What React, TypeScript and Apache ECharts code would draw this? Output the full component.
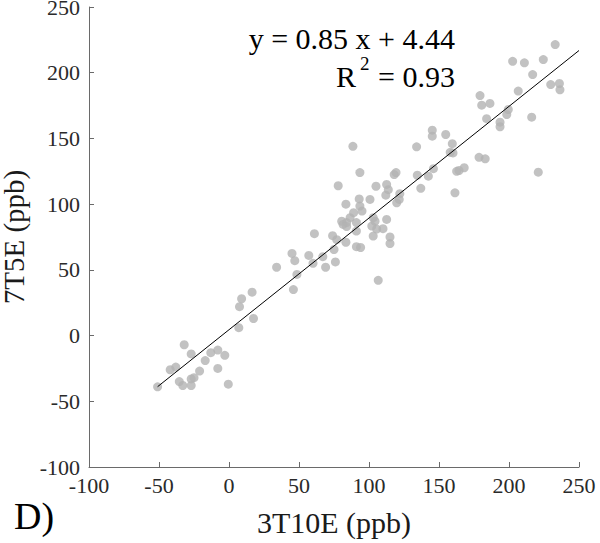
import React, { useEffect, useRef } from "react";
import * as echarts from "echarts";

const x3T10E: number[] = [
  -51, -32, -42, -38, -35.5, -33, -27, -27, -25, -27, -21, -17, -13, -8, -8, -3, -0.5,
  7, 7.5, 9, 16.5, 17.5, 34, 46, 47, 48.5, 45, 57, 60, 61, 67, 69, 76, 75, 74, 77, 83.5,
  78, 83.5, 80.5, 84, 81.5, 84, 86.5, 89, 91, 91, 91, 94, 93.5, 95, 93, 93.5, 88.5,
  100.7, 103, 104.3, 102, 105.5, 103, 110, 112.6, 115, 115, 106.6, 105, 112.6, 113.8, 112,
  119.8, 121.6, 122, 118, 119.3, 134.5, 137, 142.4, 146, 134, 145.2, 145.2, 154.8, 159.5,
  158, 160, 161.4, 162.6, 164.3, 168, 178.6, 183, 179.3, 180.5, 186.4, 184, 193.6, 193.6,
  198.4, 199.5, 202.6, 206.6, 211, 216.9, 216.2, 220.9, 224.5, 229.8, 236, 236.4, 233,
];
const y7T5E: number[] = [
  -39, -7, -26, -24, -35, -38, -14, -33, -32, -38, -27, -19, -13, -11, -25, -15, -37,
  6, 22, 28, 33, 13, 52, 35, 57, 46.5, 62.5, 61, 55, 77.5, 60, 52, 56, 65.5, 76, 73, 71,
  114, 100, 87, 86, 84.6, 83, 89.7, 93.5, 86, 79.5, 67.6, 67, 98.5, 94.7, 104, 124, 144,
  103.6, 89.7, 87, 83.3, 81, 75.7, 81.3, 88.4, 75, 70, 42, 113.6, 115, 111, 106.8,
  101, 103.6, 108, 122.5, 124, 122, 112, 121.3, 127, 143.6, 156.3, 151.7, 153, 146,
  139.4, 139, 108.6, 125, 125.6, 127.7, 135.6, 134.5, 182.6, 175.3, 176.6, 165, 162.4, 158.9,
  168.2, 172, 208.7, 186, 207.5, 198.6, 166.2, 124.3, 210, 191, 191.8, 187, 221.4,
];
const fitLineX: number[] = [-51, 250];
const fitLineY: number[] = [-38.9, 216.9];
const axisTicks = { min: -100, max: 250, interval: 50 };
const equationText = "y = 0.85 x + 4.44";
const r2Text = "= 0.93";
const xTitle = "3T10E (ppb)";
const yTitle = "7T5E (ppb)";
const panelLabel = "D)";

const FONT = "'Liberation Serif', 'Times New Roman', serif";

export default function App() {
  const ref = useRef<HTMLDivElement>(null);
  useEffect(() => {
    if (!ref.current) return;
    const chart = echarts.init(ref.current, null, { renderer: "svg" });
    const axisCommon = {
      type: "value" as const,
      min: axisTicks.min,
      max: axisTicks.max,
      interval: axisTicks.interval,
      splitLine: { show: false },
      axisLine: { show: true, onZero: false, lineStyle: { color: "#6a6a6a", width: 1 } },
      axisTick: { show: true, inside: true, length: 5, lineStyle: { color: "#6a6a6a" } },
      nameLocation: "middle" as const,
    };
    chart.setOption({
      animation: false,
      grid: { left: 89, right: 21, top: 7, bottom: 76, containLabel: false, outerBoundsMode: "none" },
      xAxis: {
        ...axisCommon,
        name: xTitle,
        nameGap: 40,
        nameTextStyle: { fontFamily: FONT, fontSize: 30, color: "#1a1a1a" },
        axisLabel: { fontFamily: FONT, fontSize: 22, color: "#2a2a2a", margin: 7 },
      },
      yAxis: {
        ...axisCommon,
        name: yTitle,
        nameGap: 53,
        nameTextStyle: { fontFamily: FONT, fontSize: 29, color: "#1a1a1a", lineHeight: 29 },
        axisLabel: { fontFamily: FONT, fontSize: 22, color: "#2a2a2a", margin: 9, lineHeight: 14 },
      },
      series: [
        {
          type: "scatter",
          data: x3T10E.map((x, i) => [x, y7T5E[i]]),
          symbol: "circle",
          symbolSize: 9,
          itemStyle: { color: "#b3b3b3" },
          z: 2,
        },
        {
          type: "line",
          data: fitLineX.map((x, i) => [x, fitLineY[i]]),
          symbol: "none",
          lineStyle: { color: "#000", width: 1 },
          z: 3,
        },
      ],
      graphic: [
        {
          type: "text",
          x: 455,
          y: 38,
          style: {
            text: equationText,
            fontFamily: FONT,
            fontSize: 30,
            fill: "#000",
            align: "right",
            verticalAlign: "middle",
          },
        },
        {
          type: "text",
          x: 455,
          y: 76,
          style: {
            text: r2Text,
            fontFamily: FONT,
            fontSize: 30,
            fill: "#000",
            align: "right",
            verticalAlign: "middle",
          },
        },
        {
          type: "text",
          x: 336,
          y: 76,
          style: {
            text: "R",
            fontFamily: FONT,
            fontSize: 30,
            fill: "#000",
            align: "left",
            verticalAlign: "middle",
          },
        },
        {
          type: "text",
          x: 360,
          y: 63,
          style: {
            text: "2",
            fontFamily: FONT,
            fontSize: 19,
            fill: "#000",
            align: "left",
            verticalAlign: "middle",
          },
        },
        {
          type: "text",
          x: 14,
          y: 516,
          style: {
            text: panelLabel,
            fontFamily: FONT,
            fontSize: 38,
            fill: "#000",
            align: "left",
            verticalAlign: "middle",
          },
        },
      ],
    });
    return () => chart.dispose();
  }, []);
  return <div ref={ref} style={{ width: 600, height: 543, position: "absolute", left: 0, top: 0 }} />;
}
